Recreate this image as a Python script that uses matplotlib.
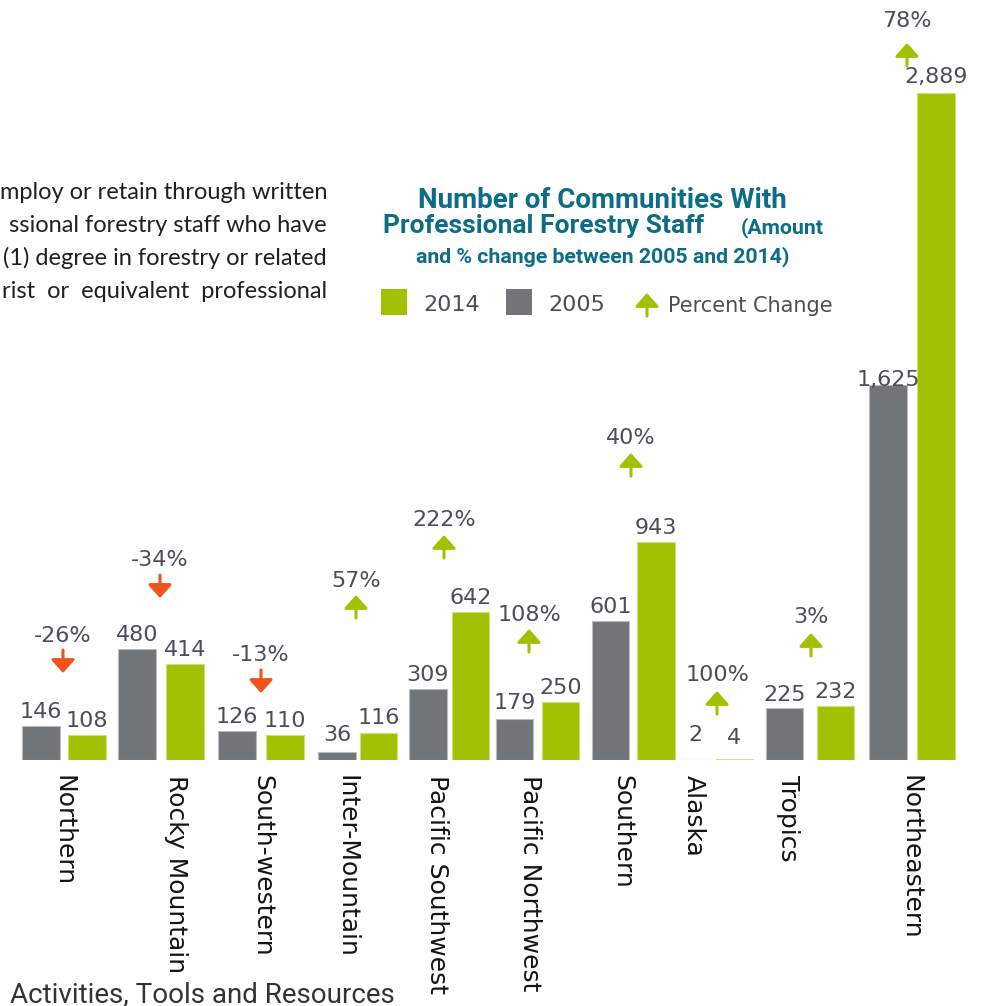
import matplotlib
matplotlib.use("Agg")
import matplotlib.pyplot as plt
from matplotlib.patches import Rectangle, FancyArrowPatch

# ---------------- data ----------------
regions = ["Northern", "Rocky Mountain", "South-western", "Inter-Mountain",
           "Pacific Southwest", "Pacific Northwest", "Southern", "Alaska",
           "Tropics", "Northeastern"]
values_2005 = [146, 480, 126, 36, 309, 179, 601, 2, 225, 1625]
values_2014 = [108, 414, 110, 116, 642, 250, 943, 4, 232, 2889]
pct_change = [-26, -34, -13, 57, 222, 108, 40, 100, 3, 78]

# ---------------- layout (pixels) ----------------
W, H = 984, 1006
x_2005 = [41, 137, 237, 337, 428, 514.5, 610.5, 695.5, 784.5, 888]
x_2014 = [87, 185, 285, 378.5, 470.5, 560.5, 656, 734.5, 835.5, 936]
label_x = [63, 176, 262, 347, 437, 530, 622, 694, 788, 910]
pct_x = [63, 160, 261, 356, 444, 529, 631, 717, 811, 907]
pct_arrow_bottom = [87, 162, 67, 142, 202, 108, 284, 46, 104, 694]  # px above baseline
pct_label_gap = [8, 9, 9, 8, 9, 8, 9, 10, 10, 16]
gap_2005 = [8, 8, 8, 11, 8, 10, 8, 19, 7, -1]
gap_2014 = [8, 8, 8, 9, 8, 8, 8, 15, 8, 10]
bar_w = 37.5
base_px = 760
ytop = 3290

GRAY = "#727578"
GREEN = "#a1c203"
ORANGE = "#f0531c"
TEXT = "#4b4f55"
TEAL = "#0d6d87"

fig = plt.figure(figsize=(W / 100, H / 100), dpi=100)
fig.patch.set_facecolor("white")


def P(x, y):
    return (x / W, 1 - y / H)


ax = fig.add_axes([0, (H - base_px) / H, 1, base_px / H])
ax.set_xlim(0, W)
ax.set_ylim(0, ytop)
for s in ax.spines.values():
    s.set_visible(False)
ax.set_yticks([])
ax.patch.set_alpha(0)

k = ytop / base_px  # data units per pixel

ax.bar(x_2005, values_2005, width=bar_w, color=GRAY, edgecolor="#b9bbbd", linewidth=0.8)
ax.bar(x_2014, values_2014, width=bar_w, color=GREEN, edgecolor="#cfe07a", linewidth=0.8)

num_font = dict(family="DejaVu Sans", fontsize=16, color=TEXT)
for x, v, g in zip(x_2005, values_2005, gap_2005):
    ax.text(x, v + g * k, f"{v:,}", ha="center", va="baseline", **num_font)
for x, v, g in zip(x_2014, values_2014, gap_2014):
    ax.text(x, v + g * k, f"{v:,}", ha="center", va="baseline", **num_font)

arrow_len = 23
for x, p, b, lg in zip(pct_x, pct_change, pct_arrow_bottom, pct_label_gap):
    y0 = b * k
    y1 = (b + arrow_len) * k
    if p >= 0:
        c, start, end = GREEN, y0, y1
    else:
        c, start, end = ORANGE, y1, y0
    ax.annotate("", xy=(x, end), xytext=(x, start), xycoords="data", textcoords="data",
                arrowprops=dict(arrowstyle="-|>,head_length=0.8,head_width=0.72",
                                mutation_scale=10, color=c, lw=2.2,
                                shrinkA=0, shrinkB=0))
    ax.text(x, (b + arrow_len + lg) * k, f"{p}%", ha="center", va="baseline", **num_font)

ax.set_xticks(label_x, labels=regions, rotation=-90, fontsize=18,
              family="DejaVu Sans", color="#141414")
ax.tick_params(axis="x", length=0, pad=10.5)

# ---------------- title ----------------
fig.text(*P(602, 208), "Number of Communities With", ha="center", va="baseline",
         family="Roboto", fontweight="bold", fontsize=20, color=TEAL)
fig.text(*P(383, 233), "Professional Forestry Staff", ha="left", va="baseline",
         family="Roboto", fontweight="bold", fontsize=19, color=TEAL)
fig.text(*P(824, 233), "(Amount", ha="right", va="baseline",
         family="Roboto", fontweight="bold", fontsize=15.3, color=TEAL)
fig.text(*P(603, 262), "and % change between 2005 and 2014)", ha="center", va="baseline",
         family="Roboto", fontweight="bold", fontsize=15.3, color=TEAL)

# ---------------- legend ----------------
fig.add_artist(Rectangle(P(381, 315), 26 / W, 26 / H, transform=fig.transFigure,
                         color=GREEN, lw=0))
fig.add_artist(Rectangle(P(506, 315), 26 / W, 26 / H, transform=fig.transFigure,
                         color=GRAY, lw=0))
fig.text(*P(423, 311), "2014", ha="left", va="baseline", **num_font)
fig.text(*P(548, 311), "2005", ha="left", va="baseline", **num_font)
fig.add_artist(FancyArrowPatch(P(647, 316), P(647, 293), transform=fig.transFigure,
                               arrowstyle="-|>,head_length=0.8,head_width=0.72",
                               mutation_scale=10, color=GREEN, lw=2.2,
                               shrinkA=0, shrinkB=0))
fig.text(*P(668, 312), "Percent Change", ha="left", va="baseline",
         family="DejaVu Sans", fontsize=15, color=TEXT)

# ---------------- surrounding page text (visible part only) ----------------
para = ["mploy or retain through written",
        "ssional forestry staff who have",
        "(1) degree in forestry or related",
        "rist  or  equivalent  professional"]
para_base = [199, 232, 265, 298]
for line, yb in zip(para, para_base):
    fig.text(*P(327, yb), line, ha="right", va="baseline",
             family="Lato", fontsize=17, color="#231f20")

fig.text(*P(10, 1002), "Activities, Tools and Resources", ha="left", va="baseline",
         family="Roboto", fontsize=20, color="#333333")

fig.savefig("out.png", dpi=100, facecolor="white")
